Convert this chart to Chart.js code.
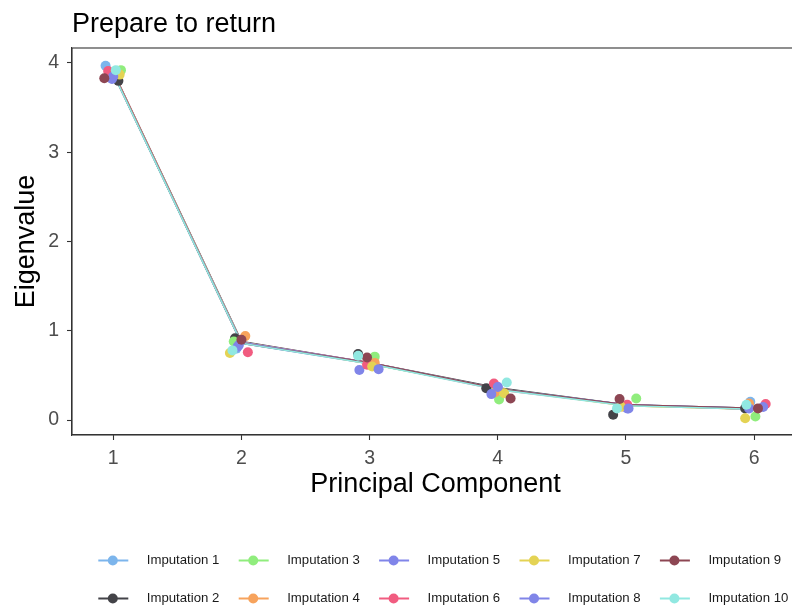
<!DOCTYPE html>
<html><head><meta charset="utf-8">
<script src="https://cdn.jsdelivr.net/npm/chart.js@4/dist/chart.umd.min.js"></script>
<style>html,body{margin:0;padding:0;background:#fff;overflow:hidden}#wrap{width:792px;height:610px;overflow:hidden}</style>
</head><body><div id="wrap"><canvas id="c" width="799" height="610"></canvas></div>
<script>
const FONT = "'Liberation Sans', Arial, sans-serif";
const components = [1, 2, 3, 4, 5, 6];
const yTickValues = [0, 1, 2, 3, 4];
const seriesNames = ['Imputation 1','Imputation 2','Imputation 3','Imputation 4','Imputation 5',
                     'Imputation 6','Imputation 7','Imputation 8','Imputation 9','Imputation 10'];
const seriesColors = ['#7cb5ec','#434348','#90ed7d','#f7a35c','#8085e9',
                      '#f15c80','#e4d354','#8085e8','#8d4653','#91e8e1'];

// eigenvalues per imputation (lines, at the exact component)
const eig1  = [3.89, 0.87, 0.64, 0.35, 0.17, 0.12];
const eig2  = [3.90, 0.88, 0.64, 0.36, 0.17, 0.13];
const eig3  = [3.89, 0.87, 0.63, 0.35, 0.17, 0.12];
const eig4  = [3.88, 0.87, 0.64, 0.35, 0.16, 0.12];
const eig5  = [3.89, 0.86, 0.63, 0.35, 0.17, 0.13];
const eig6  = [3.90, 0.87, 0.64, 0.34, 0.17, 0.12];
const eig7  = [3.89, 0.87, 0.63, 0.35, 0.16, 0.12];
const eig8  = [3.88, 0.87, 0.64, 0.35, 0.17, 0.12];
const eig9  = [3.89, 0.86, 0.64, 0.35, 0.17, 0.13];
const eig10 = [3.88, 0.86, 0.63, 0.34, 0.16, 0.12];

// jittered points: x positions and values
const ptX1  = [0.94, 1.96, 3.00, 4.00, 4.97, 5.97];
const ptY1  = [3.97, 0.80, 0.67, 0.37, 0.16, 0.205];
const ptX2  = [1.04, 1.95, 2.91, 3.91, 4.90, 5.93];
const ptY2  = [3.80, 0.915, 0.74, 0.355, 0.06, 0.13];
const ptX3  = [1.06, 1.94, 3.04, 4.01, 5.08, 6.01];
const ptY3  = [3.92, 0.88, 0.71, 0.23, 0.24, 0.04];
const ptX4  = [1.03, 2.03, 3.04, 3.98, 4.97, 5.96];
const ptY4  = [3.88, 0.94, 0.64, 0.31, 0.15, 0.185];
const ptX5  = [0.99, 1.97, 2.92, 3.95, 5.01, 5.96];
const ptY5  = [3.82, 0.82, 0.56, 0.29, 0.13, 0.13];
const ptX6  = [0.96, 2.05, 2.98, 3.97, 5.01, 6.09];
const ptY6  = [3.91, 0.76, 0.62, 0.41, 0.17, 0.18];
const ptX7  = [1.05, 1.91, 3.02, 4.05, 4.96, 5.93];
const ptY7  = [3.87, 0.75, 0.60, 0.30, 0.15, 0.02];
const ptX8  = [1.00, 1.98, 3.07, 4.00, 5.02, 6.07];
const ptY8  = [3.85, 0.84, 0.57, 0.37, 0.13, 0.145];
const ptX9  = [0.93, 2.00, 2.98, 4.10, 4.95, 6.03];
const ptY9  = [3.83, 0.90, 0.70, 0.24, 0.235, 0.13];
const ptX10 = [1.02, 1.93, 2.91, 4.07, 4.93, 5.94];
const ptY10 = [3.92, 0.78, 0.72, 0.42, 0.13, 0.17];

const eigs = [eig1,eig2,eig3,eig4,eig5,eig6,eig7,eig8,eig9,eig10];
const ptXs = [ptX1,ptX2,ptX3,ptX4,ptX5,ptX6,ptX7,ptX8,ptX9,ptX10];
const ptYs = [ptY1,ptY2,ptY3,ptY4,ptY5,ptY6,ptY7,ptY8,ptY9,ptY10];

const datasets = [];
seriesNames.forEach((name, i) => {
  datasets.push({
    type: 'line', label: name,
    data: components.map((c, k) => ({x: c, y: eigs[i][k]})),
    borderColor: seriesColors[i], borderWidth: 1.6,
    pointRadius: 0, fill: false, tension: 0,
    order: 100 - i
  });
});
seriesNames.forEach((name, i) => {
  datasets.push({
    type: 'scatter', label: name + ' points',
    data: ptXs[i].map((x, k) => ({x: x, y: ptYs[i][k]})),
    backgroundColor: seriesColors[i], borderWidth: 0,
    pointRadius: 5, pointHoverRadius: 5,
    order: 50 - i
  });
});

const frame = {
  id: 'frame',
  afterDatasetsDraw(chart) {
    const {ctx, chartArea: a} = chart;
    ctx.save();
    ctx.strokeStyle = '#333333';
    ctx.lineWidth = 1.1;
    ctx.strokeRect(a.left, a.top, a.right - a.left, a.bottom - a.top);
    ctx.restore();
  }
};

const legendPlugin = {
  id: 'ggLegend',
  afterDraw(chart) {
    const ctx = chart.ctx;
    ctx.save();
    for (let i = 0; i < seriesNames.length; i++) {
      const col = Math.floor(i / 2), row = i % 2;
      const x0 = 98.3 + 140.4 * col;
      const y = row === 0 ? 560.5 : 598.5;
      ctx.strokeStyle = seriesColors[i];
      ctx.lineWidth = 2;
      ctx.beginPath(); ctx.moveTo(x0, y); ctx.lineTo(x0 + 30, y); ctx.stroke();
      ctx.fillStyle = seriesColors[i];
      ctx.beginPath(); ctx.arc(x0 + 14.5, y, 5, 0, Math.PI * 2); ctx.fill();
      ctx.fillStyle = '#1a1a1a';
      ctx.font = '13.2px ' + FONT;
      ctx.textAlign = 'left'; ctx.textBaseline = 'middle';
      ctx.fillText(seriesNames[i], x0 + 48.5, y);
    }
    ctx.restore();
  }
};

new Chart(document.getElementById('c'), {
  type: 'scatter',
  data: { datasets },
  plugins: [frame, legendPlugin],
  options: {
    responsive: false, animation: false, devicePixelRatio: 1,
    layout: { autoPadding: false, padding: { left: 0, right: 0, top: 0, bottom: 0 } },
    plugins: {
      legend: { display: false },
      tooltip: { enabled: false },
      title: {
        display: true, text: 'Prepare to return', align: 'start', fullSize: false,
        color: '#000', font: { family: FONT, size: 27, weight: 'normal' },
        padding: { top: 8, bottom: 7.6 }
      }
    },
    scales: {
      x: {
        type: 'linear', min: 0.678, max: 6.35,
        afterBuildTicks: s => { s.ticks = components.map(v => ({ value: v })); },
        afterFit: s => { s.height = 175; s.paddingLeft = 0; s.paddingRight = 0; },
        grid: { display: true, drawOnChartArea: false, drawTicks: true, tickLength: 5, tickColor: '#333333', tickWidth: 1.1 },
        border: { display: true, color: '#333333', width: 1.1 },
        ticks: { color: '#4d4d4d', font: { family: FONT, size: 19.5 }, padding: 7, maxRotation: 0 },
        title: { display: true, text: 'Principal Component', color: '#000',
                 font: { family: FONT, size: 27 }, padding: { top: 0, bottom: 108.8 } }
      },
      y: {
        type: 'linear', min: -0.168, max: 4.168,
        afterBuildTicks: s => { s.ticks = yTickValues.map(v => ({ value: v })); },
        afterFit: s => { s.width = 72; s.paddingTop = 0; s.paddingBottom = 0; },
        grid: { display: true, drawOnChartArea: false, drawTicks: true, tickLength: 5, tickColor: '#333333', tickWidth: 1.1 },
        border: { display: true, color: '#333333', width: 1.1 },
        ticks: { color: '#4d4d4d', font: { family: FONT, size: 19.5 }, padding: 8 },
        title: { display: true, text: 'Eigenvalue', color: '#000',
                 font: { family: FONT, size: 27 }, padding: { top: 10, bottom: 0 } }
      }
    }
  }
});
</script></body></html>
